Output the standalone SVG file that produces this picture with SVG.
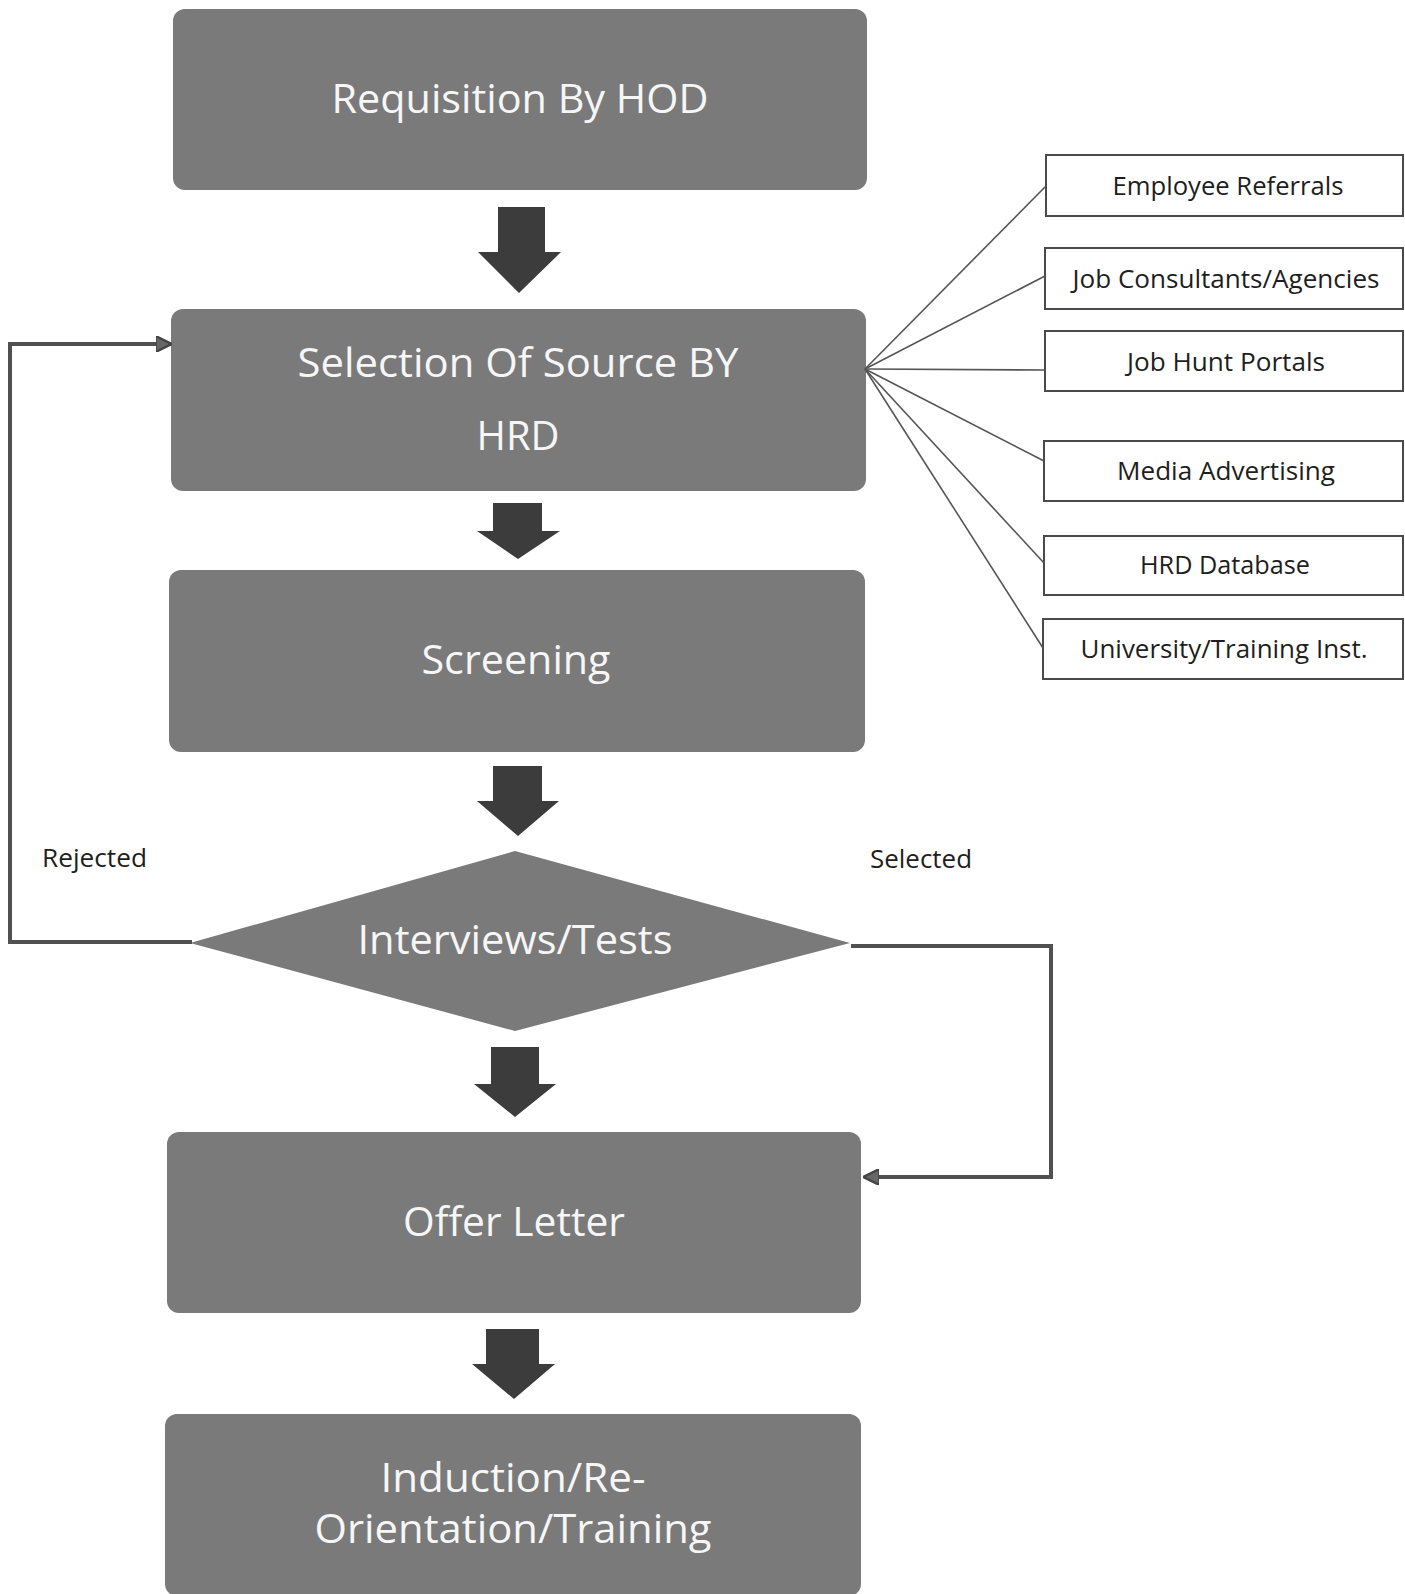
<svg xmlns="http://www.w3.org/2000/svg" width="1405" height="1594" viewBox="0 0 1405 1594">
<defs>
<marker id="ah" viewBox="0 0 10 10" refX="9" refY="5" markerWidth="4" markerHeight="4" orient="auto" markerUnits="strokeWidth">
<path d="M0,0 L10,5 L0,10 Z" fill="#666" stroke="#444" stroke-width="1.5"/>
</marker>
<style>
.box{fill:#7a7a7a}
.big{fill:#f6f6f6;font-family:"Open Sans","Noto Sans",sans-serif;font-size:40px;text-anchor:middle}
.src{fill:#fff;stroke:#4a4a4a;stroke-width:2}
.small{fill:#1e1e1e;font-family:"Open Sans","Noto Sans",sans-serif;font-size:26px;text-anchor:middle}
.lbl{fill:#1e1e1e;font-family:"Open Sans","Noto Sans",sans-serif;font-size:26px}
.blk{fill:#3c3c3c}
.fan{stroke:#555;stroke-width:1.6;fill:none}
.flow{stroke:#505050;stroke-width:4;fill:none;stroke-linejoin:miter}
</style>
</defs>
<rect width="1405" height="1594" fill="#ffffff"/>

<g id="n-requisition">
<rect class="box" x="173" y="9" width="694" height="181" rx="12"/>
<text class="big" x="520" y="113" textLength="377" lengthAdjust="spacingAndGlyphs">Requisition By HOD</text>
</g>
<g id="n-selection">
<rect class="box" x="171" y="309" width="695" height="182" rx="12"/>
<text class="big" x="518" y="377" textLength="441" lengthAdjust="spacingAndGlyphs">Selection Of Source BY</text>
<text class="big" x="518" y="450" textLength="83" lengthAdjust="spacingAndGlyphs">HRD</text>
</g>
<g id="n-screening">
<rect class="box" x="169" y="570" width="696" height="182" rx="12"/>
<text class="big" x="516" y="674" textLength="189" lengthAdjust="spacingAndGlyphs">Screening</text>
</g>
<g id="n-interviews">
<polygon class="box" points="515,851 850,943 515,1031 190,943"/>
<text class="big" x="515" y="954" textLength="315" lengthAdjust="spacingAndGlyphs">Interviews/Tests</text>
</g>
<g id="n-offer">
<rect class="box" x="167" y="1132" width="694" height="181" rx="12"/>
<text class="big" x="514" y="1236" textLength="222" lengthAdjust="spacingAndGlyphs">Offer Letter</text>
</g>
<g id="n-induction">
<rect class="box" x="165" y="1414" width="696" height="182" rx="12"/>
<text class="big" x="513" y="1492" textLength="265" lengthAdjust="spacingAndGlyphs">Induction/Re-</text>
<text class="big" x="513" y="1543" textLength="397" lengthAdjust="spacingAndGlyphs">Orientation/Training</text>
</g>

<g id="n-employee">
<rect class="src" x="1046" y="155" width="357" height="61"/>
<text class="small" x="1228" y="195" textLength="231" lengthAdjust="spacingAndGlyphs">Employee Referrals</text>
</g>
<g id="n-consultants">
<rect class="src" x="1045" y="248" width="358" height="61"/>
<text class="small" x="1226" y="288" textLength="307" lengthAdjust="spacingAndGlyphs">Job Consultants/Agencies</text>
</g>
<g id="n-portals">
<rect class="src" x="1045" y="331" width="358" height="60"/>
<text class="small" x="1226" y="371" textLength="198" lengthAdjust="spacingAndGlyphs">Job Hunt Portals</text>
</g>
<g id="n-media">
<rect class="src" x="1044" y="441" width="359" height="60"/>
<text class="small" x="1226" y="480" textLength="218" lengthAdjust="spacingAndGlyphs">Media Advertising</text>
</g>
<g id="n-database">
<rect class="src" x="1044" y="536" width="359" height="59"/>
<text class="small" x="1225" y="574" textLength="170" lengthAdjust="spacingAndGlyphs">HRD Database</text>
</g>
<g id="n-university">
<rect class="src" x="1043" y="619" width="360" height="60"/>
<text class="small" x="1224" y="658" textLength="287" lengthAdjust="spacingAndGlyphs">University/Training Inst.</text>
</g>

<g id="connectors">
<polygon class="blk" points="498,207 545,207 545,252 561,252 519,293 478,252 498,252"/>
<polygon class="blk" points="493,503 542,503 542,531 560,531 518,559 477,531 493,531"/>
<polygon class="blk" points="493,766 542,766 542,801 559,801 518,836 477,801 493,801"/>
<polygon class="blk" points="491,1047 539,1047 539,1084 556,1084 515,1117 474,1084 491,1084"/>
<polygon class="blk" points="486,1329 539,1329 539,1364 555,1364 514,1399 472,1364 486,1364"/>

<line class="fan" x1="865" y1="369" x2="1046" y2="186"/>
<line class="fan" x1="865" y1="369" x2="1045" y2="276"/>
<line class="fan" x1="865" y1="369" x2="1045" y2="370"/>
<line class="fan" x1="865" y1="369" x2="1044" y2="461"/>
<line class="fan" x1="865" y1="369" x2="1044" y2="563"/>
<line class="fan" x1="865" y1="369" x2="1043" y2="648"/>

<path class="flow" d="M192,942 L10,942 L10,344 L170,344" marker-end="url(#ah)"/>
<path class="flow" d="M851,946 L1051,946 L1051,1177 L865,1177" marker-end="url(#ah)"/>

<text class="lbl" x="42" y="867" textLength="105" lengthAdjust="spacingAndGlyphs">Rejected</text>
<text class="lbl" x="870" y="868" textLength="102" lengthAdjust="spacingAndGlyphs">Selected</text>
</g>
</svg>
